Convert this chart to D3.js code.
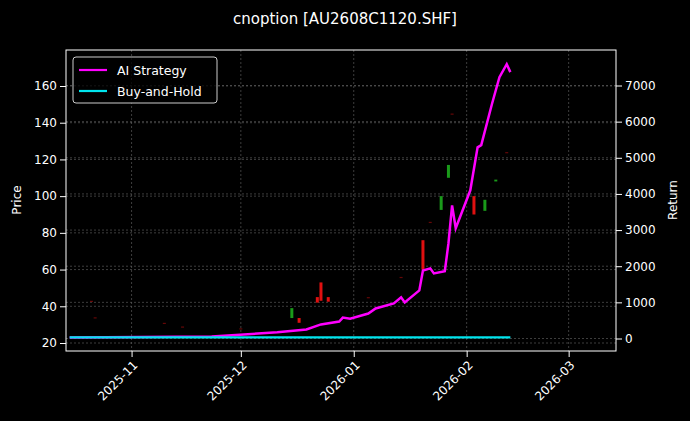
<!doctype html>
<html>
<head>
<meta charset="utf-8">
<script src="https://d3js.org/d3.v7.min.js"></script>
<style>
  body { margin: 0; background: #000; }
  text { font-family: "DejaVu Sans", sans-serif; fill: #fff; }
</style>
</head>
<body>
<svg id="chart" width="690" height="421"></svg>
<script>
// strategy curves (return units)
const aiDates = ["2025-10-15","2025-11-23","2025-12-11","2025-12-19","2025-12-23","2025-12-28","2025-12-29","2025-12-31","2026-01-05","2026-01-07","2026-01-12","2026-01-14","2026-01-15","2026-01-19","2026-01-20","2026-01-22","2026-01-23","2026-01-26","2026-01-27","2026-01-28","2026-01-29","2026-02-02","2026-02-04","2026-02-05","2026-02-08","2026-02-10","2026-02-12","2026-02-13"];
const aiValues = [30,55,170,250,390,470,580,550,690,830,970,1140,1000,1330,1880,1940,1800,1860,2630,3680,3050,4100,5290,5350,6510,7230,7590,7370];
const bhDates = ["2025-10-15","2026-02-13"];
const bhValues = [30,30];

// candles (price units)
const candleDates = ["2025-10-21","2025-10-22","2025-11-10","2025-11-15","2025-12-01","2025-12-15","2025-12-17","2025-12-22","2025-12-23","2025-12-25","2026-01-05","2026-01-14","2026-01-20","2026-01-22","2026-01-25","2026-01-27","2026-01-28","2026-02-03","2026-02-06","2026-02-09","2026-02-12"];
const candleOpen  = [43,34,31,29,28,33.6,33.6,45,53,45,45,56,76,86,92.5,110,145,100,92,108,124];
const candleClose = [43,34,31,29,28,39,31,42,43,42.5,45,56,60,86,100,117,145,90,98,109,124];

const W = 690, H = 421;
const m = { left: 66, right: 616, top: 50, bottom: 351 };
const parse = d3.timeParse("%Y-%m-%d");

const svg = d3.select("#chart");
svg.append("rect").attr("width", W).attr("height", H).attr("fill", "#000");

const x = d3.scaleTime().domain([parse("2025-10-14"), parse("2026-03-14")]).range([m.left, m.right]);
const yP = d3.scaleLinear().domain([20, 160]).range([343, 86]);
const yR = d3.scaleLinear().domain([0, 7000]).range([338.5, 85.5]);

// grid
const g = svg.append("g");
const xt = [parse("2025-11-01"), parse("2025-12-01"), parse("2026-01-01"), parse("2026-02-01"), parse("2026-03-01")];
g.selectAll(".vx").data(xt).enter().append("line")
  .attr("x1", d => x(d)).attr("x2", d => x(d)).attr("y1", m.top).attr("y2", m.bottom)
  .attr("stroke", "#666").attr("stroke-dasharray", "2,2").attr("stroke-width", 0.6);
g.selectAll(".hp").data(d3.range(20, 161, 20)).enter().append("line")
  .attr("x1", m.left).attr("x2", m.right).attr("y1", d => yP(d)).attr("y2", d => yP(d))
  .attr("stroke", "#666").attr("stroke-dasharray", "2,2").attr("stroke-width", 0.6);
g.selectAll(".hr").data(d3.range(0, 7001, 1000)).enter().append("line")
  .attr("x1", m.left).attr("x2", m.right).attr("y1", d => yR(d)).attr("y2", d => yR(d))
  .attr("stroke", "#666").attr("stroke-dasharray", "2,2").attr("stroke-width", 0.6);

// candles
const candles = candleDates.map((d, i) => ({ date: parse(d), o: candleOpen[i], c: candleClose[i] }));
svg.selectAll(".candle").data(candles).enter().append("rect")
  .attr("x", d => x(d.date) - 1.5)
  .attr("width", 3)
  .attr("y", d => yP(Math.max(d.o, d.c)))
  .attr("height", d => Math.max(1.2, Math.abs(yP(d.o) - yP(d.c))))
  .attr("fill", d => d.c > d.o ? "#1a9a1a" : "#e01010")
  .attr("opacity", d => d.o === d.c ? 0.45 : 1);

// lines
const lineR = d3.line().x(d => x(d.date)).y(d => yR(d.v));
const bh = bhDates.map((d, i) => ({ date: parse(d), v: bhValues[i] }));
const ai = aiDates.map((d, i) => ({ date: parse(d), v: aiValues[i] }));
svg.append("path").datum(ai).attr("d", lineR).attr("fill", "none").attr("stroke", "#ff00ff").attr("stroke-width", 2.5);
svg.append("path").datum(bh).attr("d", lineR).attr("fill", "none").attr("stroke", "#00e5ee").attr("stroke-width", 2.2);

// frame
svg.append("rect").attr("x", m.left).attr("y", m.top).attr("width", m.right - m.left).attr("height", m.bottom - m.top)
  .attr("fill", "none").attr("stroke", "#fff").attr("stroke-width", 1);

// axes
const ax = svg.append("g").attr("transform", `translate(0,${m.bottom})`)
  .call(d3.axisBottom(x).tickValues(xt).tickFormat(d3.timeFormat("%Y-%m")).tickSizeOuter(0));
ax.selectAll("text").attr("font-size", 12).attr("text-anchor", "end")
  .attr("transform", "rotate(-45)").attr("dx", "-0.5em").attr("dy", "0.5em");
const ayl = svg.append("g").attr("transform", `translate(${m.left},0)`)
  .call(d3.axisLeft(yP).tickValues(d3.range(20, 161, 20)).tickSizeOuter(0));
const ayr = svg.append("g").attr("transform", `translate(${m.right},0)`)
  .call(d3.axisRight(yR).tickValues(d3.range(0, 7001, 1000)).tickFormat(d3.format("d")).tickSizeOuter(0));
[ax, ayl, ayr].forEach(a => {
  a.select(".domain").remove();
  a.selectAll("line").attr("stroke", "#fff");
  a.selectAll("text").attr("fill", "#fff").attr("font-size", 12);
});

svg.append("text").attr("x", 345).attr("y", 24).attr("text-anchor", "middle").attr("font-size", 15)
  .text("cnoption [AU2608C1120.SHF]");
svg.append("text").attr("transform", "translate(21,200) rotate(-90)").attr("text-anchor", "middle")
  .attr("font-size", 12).text("Price");
svg.append("text").attr("transform", "translate(677,200) rotate(-90)").attr("text-anchor", "middle")
  .attr("font-size", 12).text("Return");

// legend
const lg = svg.append("g");
lg.append("rect").attr("x", 73).attr("y", 57).attr("width", 144).attr("height", 46).attr("rx", 3)
  .attr("fill", "#000").attr("fill-opacity", 0.8).attr("stroke", "#ccc");
[["AI Strategy", "#ff00ff"], ["Buy-and-Hold", "#00e5ee"]].forEach((d, i) => {
  const yy = 70 + i * 21;
  lg.append("line").attr("x1", 79).attr("x2", 107).attr("y1", yy).attr("y2", yy).attr("stroke", d[1]).attr("stroke-width", 2.2);
  lg.append("text").attr("x", 117).attr("y", yy + 4.5).attr("font-size", 12.5).text(d[0]);
});
</script>
</body>
</html>
